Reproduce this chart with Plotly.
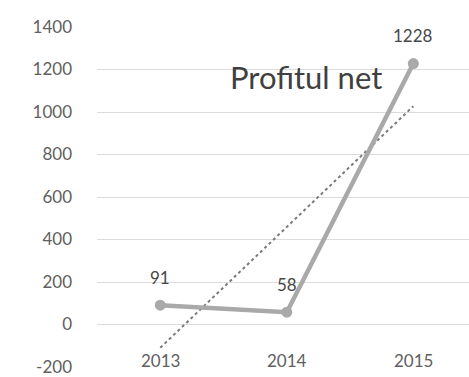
import numpy as np
import plotly.graph_objects as go

years = [2013, 2014, 2015]
profit = [91, 58, 1228]
year_labels = ["2013", "2014", "2015"]
y_ticks = [-200, 0, 200, 400, 600, 800, 1000, 1200, 1400]
y_tick_text = ["-200", "0", "200", "400", "600", "800", "1000", "1200", "1400"]
title_text = "Profitul net"

FONT = "Lato, Open Sans, sans-serif"

slope, intercept = np.polyfit(years, profit, 1)
trend = [slope * x + intercept for x in years]

fig = go.Figure()
fig.add_trace(go.Scatter(
    x=years, y=trend, mode="lines",
    line=dict(color="#7a7a7a", width=2, dash="dot"),
    hoverinfo="skip", showlegend=False,
))
fig.add_trace(go.Scatter(
    x=years, y=profit, mode="lines+markers",
    line=dict(color="#a9a9a9", width=4.5),
    marker=dict(color="#a9a9a9", size=11),
    showlegend=False,
))

# data labels
for x, v in zip(years, profit):
    fig.add_annotation(x=x, y=v, xref="x", yref="y", text=str(v), showarrow=False,
                       yshift=28, font=dict(family=FONT, size=17, color="#484848"))

# category labels sitting on the bottom gridline
for x, lab in zip(years, year_labels):
    fig.add_annotation(x=x, y=-200, xref="x", yref="y", text=lab, showarrow=False,
                       yshift=7, font=dict(family=FONT, size=17, color="#606060"),
                       bgcolor="rgba(255,255,255,0.85)")

fig.add_annotation(x=(306 - 97) / 372, y=(367 - 56) / 340, xref="paper", yref="paper",
                   text=title_text, showarrow=False,
                   font=dict(family=FONT, size=31, color="#404040"))

fig.update_layout(
    width=469, height=377,
    margin=dict(l=97, r=0, t=27, b=10),
    paper_bgcolor="white", plot_bgcolor="white",
    xaxis=dict(range=[2012.5, 2015.44], showticklabels=False, showgrid=False,
               zeroline=False, showline=False),
    yaxis=dict(range=[-200, 1400], tickvals=y_ticks, ticktext=y_tick_text,
               showgrid=True, gridcolor="#dcdcdc", gridwidth=1,
               zeroline=False, showline=False, ticklabelstandoff=24,
               tickfont=dict(family=FONT, size=17, color="#606060")),
)

fig.write_html("out.html")
